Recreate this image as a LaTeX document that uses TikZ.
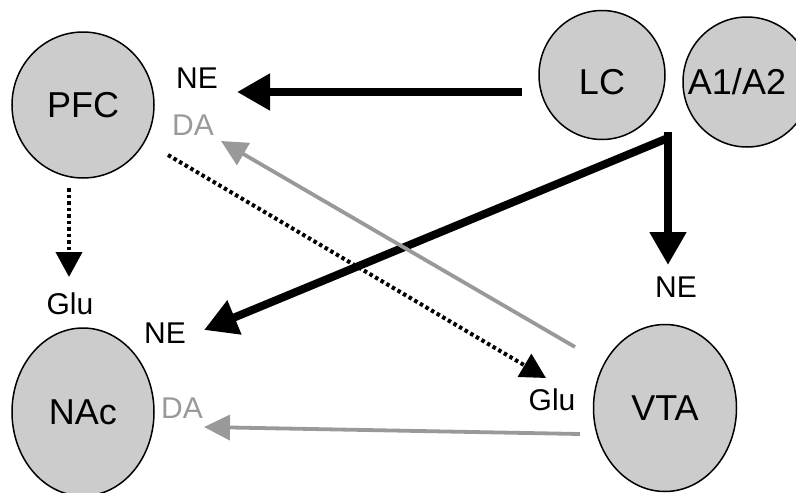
\documentclass[tikz,border=0pt]{standalone}
\usepackage{fontspec}
\setmainfont{Liberation Sans}
\usetikzlibrary{arrows.meta,shapes.geometric}
\definecolor{regfill}{HTML}{CCCCCC}
\definecolor{dagray}{HTML}{999999}

\begin{document}
\begin{tikzpicture}[x=1pt, y=-1pt,
    region/.style={ellipse, draw, line width=1.5pt, fill=regfill, inner sep=0pt,
      font=\fontsize{36}{36}\selectfont},
    rname/.style={font=\fontsize{36}{36}\selectfont},
    tag/.style={font=\fontsize{30}{30}\selectfont},
    ne/.style={line width=8pt, -{Triangle[length=33pt,width=35pt]}},
    da/.style={dagray, line width=3.8pt, -{Triangle[length=26pt,width=25pt]}},
    glu/.style={line width=4pt, dash pattern=on 3.5pt off 3pt,
      -{Triangle[length=25pt,width=26pt]}}]

    \useasboundingbox (0,0) rectangle (796,493);

    % regions
    \node[region, minimum width=142pt, minimum height=146pt] (pfc) at (83,105) {PFC};
    \node[region, minimum width=126pt, minimum height=129pt] (lc) at (602,75) {};
    \node[region, minimum width=128pt, minimum height=130pt] (a1a2) at (747,82) {};
    \node[region, minimum width=142pt, minimum height=168pt] (nac) at (83,412) {NAc};
    \node[region, minimum width=143pt, minimum height=167pt] (vta) at (665,408) {VTA};
    \node[rname] (lct) at (602,82) {LC};
    \node[rname] (a1a2t) at (737,82) {A1/A2};

    % transmitters
    \node[tag] (nepfc) at (197,78) {NE};
    \node[tag, dagray] (dapfc) at (193,125) {DA};
    \node[tag] (glunac) at (70,304) {Glu};
    \node[tag] (nenac) at (165,333) {NE};
    \node[tag, dagray] (danac) at (182,408) {DA};
    \node[tag] (gluvta) at (552,400) {Glu};
    \node[tag] (nevta) at (676,287) {NE};

    % arrow ends
    \coordinate (a) at (522,92);
    \coordinate (b) at (237,92);
    \coordinate (c) at (668,132);
    \coordinate (d) at (668,265);
    \coordinate (e) at (668,138);
    \coordinate (f) at (204,330);
    \coordinate (g) at (575,347);
    \coordinate (h) at (221,141);
    \coordinate (i) at (580,434);
    \coordinate (j) at (204,427);
    \coordinate (k) at (168,155);
    \coordinate (l) at (546,378);
    \coordinate (m) at (69,188);
    \coordinate (n) at (69,277);

    \draw [ne] (a) to (b);
    \draw [ne] (c) to (d);
    \draw [ne] (e) to (f);
    \draw [da] (g) to (h);
    \draw [da] (i) to (j);
    \draw [glu] (k) to (l);
    \draw [glu] (m) to (n);

\end{tikzpicture}
\end{document}
